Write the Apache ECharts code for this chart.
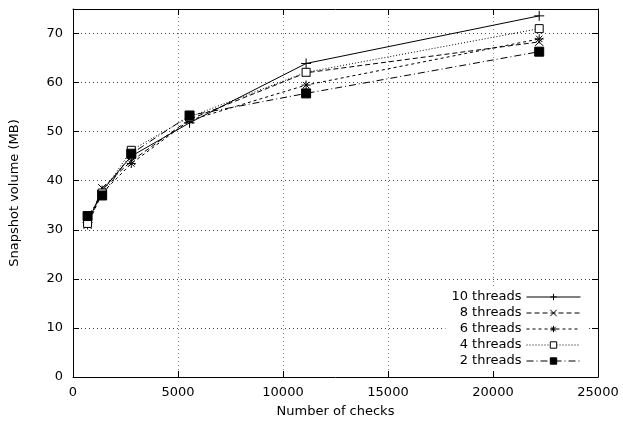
<!DOCTYPE html>
<html>
<head>
<meta charset="utf-8">
<script src="https://cdn.jsdelivr.net/npm/echarts@6/dist/echarts.min.js"></script>
<style>
  html, body { margin: 0; padding: 0; background: #fff; }
  #main { width: 623px; height: 424px; }
</style>
</head>
<body>
<div id="main"></div>
<script>
// number of checks (x) and snapshot volume in MB (y) per thread count
var checks = [694, 1388, 2775, 5550, 11100, 22200];
var threads10 = [31.5, 38.0, 45.0, 51.8, 63.9, 73.6];
var threads8 = [31.0, 38.5, 44.0, 52.5, 62.0, 68.3];
var threads6 = [31.0, 37.5, 43.5, 52.3, 59.5, 68.9];
var threads4 = [31.3, 37.5, 46.2, 53.0, 62.1, 71.0];
var threads2 = [32.8, 37.0, 45.5, 53.3, 57.8, 66.3];
var names = ['10 threads', '8 threads', '6 threads', '4 threads', '2 threads'];
var xTicks = [0, 5000, 10000, 15000, 20000, 25000];
var yTicks = [0, 10, 20, 30, 40, 50, 60, 70];

var font = 'DejaVu Sans';

function pairs(ys) {
	var d = [];
	for (var i = 0; i < checks.length; i++) {
		d.push([checks[i], ys[i]]);
	}
	return d;
}

// marker shapes like gnuplot's point types
var plus = 'path://M0,5L10,5M5,0L5,10';
var cross = 'path://M0,0L10,10M0,10L10,0';
var star = 'path://M0,5L10,5M5,0L5,10M1.5,1.5L8.5,8.5M1.5,8.5L8.5,1.5';

function serie(name, ys, symbol, size, dash, fill) {
	return {
		name: name,
		type: 'line',
		data: pairs(ys),
		symbol: symbol,
		symbolSize: size,
		showAllSymbol: true,
		lineStyle: { color: '#000', width: 1, type: dash },
		itemStyle: { color: fill, borderColor: '#000', borderWidth: 1 },
		emphasis: { disabled: true },
		animation: false
	};
}

var myChart = echarts.init(document.getElementById('main'));
var axisText = { color: '#000', fontFamily: font, fontSize: 13 };

var option = {
	backgroundColor: '#fff',
	animation: false,
	grid: { left: 72, right: 25, top: 9, bottom: 47, show: false },
	legend: {
		data: names,
		orient: 'vertical',
		align: 'right',
		right: 36,
		top: 288,
		itemWidth: 54,
		itemHeight: 8,
		itemGap: 2,
		padding: [2, 6],
		backgroundColor: '#fff',
		lineStyle: { width: 1 },
		itemStyle: { borderWidth: 1 },
		textStyle: { color: '#000', fontFamily: font, fontSize: 13, lineHeight: 14 }
	},
	xAxis: [{
		type: 'value',
		min: xTicks[0],
		max: xTicks[xTicks.length - 1],
		interval: xTicks[1] - xTicks[0],
		name: 'Number of checks',
		nameLocation: 'middle',
		nameGap: 28,
		nameTextStyle: axisText,
		axisLine: { show: true, onZero: false, lineStyle: { color: '#000', width: 1 } },
		axisTick: { show: true, inside: true, length: 6, lineStyle: { color: '#000' } },
		axisLabel: Object.assign({
			margin: 9,
			formatter: function (v) { return String(v); }
		}, axisText),
		splitLine: { show: true, lineStyle: { color: '#888', type: [1, 3], width: 1 } }
	}, {
		type: 'value',
		position: 'top',
		min: xTicks[0],
		max: xTicks[xTicks.length - 1],
		interval: xTicks[1] - xTicks[0],
		axisLine: { show: true, onZero: false, lineStyle: { color: '#000', width: 1 } },
		axisTick: { show: true, inside: true, length: 6, lineStyle: { color: '#000' } },
		axisLabel: { show: false },
		splitLine: { show: false }
	}],
	yAxis: [{
		type: 'value',
		min: 0,
		max: 75,
		interval: yTicks[1] - yTicks[0],
		name: 'Snapshot volume (MB)',
		nameLocation: 'middle',
		nameGap: 52,
		nameTextStyle: axisText,
		axisLine: { show: true, onZero: false, lineStyle: { color: '#000', width: 1 } },
		axisTick: { show: true, inside: true, length: 6, lineStyle: { color: '#000' } },
		axisLabel: Object.assign({
			margin: 10,
			formatter: function (v) { return yTicks.indexOf(v) >= 0 ? String(v) : ''; }
		}, axisText),
		splitLine: { show: true, lineStyle: { color: '#444', type: [1, 3], width: 1 } }
	}, {
		type: 'value',
		position: 'right',
		min: 0,
		max: 75,
		interval: yTicks[1] - yTicks[0],
		axisLine: { show: true, onZero: false, lineStyle: { color: '#000', width: 1 } },
		axisTick: { show: true, inside: true, length: 6, lineStyle: { color: '#000' } },
		axisLabel: { show: false },
		splitLine: { show: false }
	}],
	series: [
		serie(names[0], threads10, plus, 10, 'solid', '#000'),
		serie(names[1], threads8, cross, 8, [5, 3], '#000'),
		serie(names[2], threads6, star, 9, [3, 3], '#000'),
		serie(names[3], threads4, 'rect', 8, [1, 2], '#fff'),
		serie(names[4], threads2, 'rect', 9, [7, 3, 1, 3], '#000')
	]
};
myChart.setOption(option);
</script>
</body>
</html>
